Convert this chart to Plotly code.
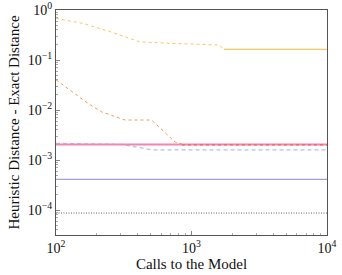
import plotly.graph_objects as go

# ---- data ----
yellow_dash_x = [100, 158, 250, 417, 705, 1590, 1740]
yellow_dash_y = [0.68, 0.54, 0.37, 0.23, 0.215, 0.20, 0.163]
yellow_solid_x = [1740, 10000]
yellow_solid_y = [0.163, 0.163]

orange_x = [100, 172, 217, 323, 508, 537, 755, 850]
orange_y = [0.040, 0.0136, 0.0092, 0.0063, 0.0063, 0.0055, 0.0023, 0.0021]

red_x = [850, 10000]
red_y = [0.0020, 0.0020]

pink_x = [100, 10000]
pink_y = [0.00204, 0.00204]

blue_x = [100, 307, 510, 10000]
blue_y = [0.00215, 0.00205, 0.0016, 0.0016]

purple_x = [100, 10000]
purple_y = [0.00041, 0.00041]

gray_x = [100, 10000]
gray_y = [0.000087, 0.000087]

x_tickvals = [100, 1000, 10000]
x_ticktext = ["10<sup>2</sup>", "10<sup>3</sup>", "10<sup>4</sup>"]
y_tickvals = [1e-4, 1e-3, 1e-2, 1e-1, 1]
y_ticktext = ["10<sup>−4</sup>", "10<sup>−3</sup>", "10<sup>−2</sup>", "10<sup>−1</sup>", "10<sup>0</sup>"]

x_minor = [k * 10 ** p for p in (2, 3) for k in range(2, 10)]
y_minor = [k * 10.0 ** p for p in (-5, -4, -3, -2, -1) for k in range(2, 10)]

fig = go.Figure()

def add(x, y, color, dash, width=1.0):
    fig.add_trace(go.Scatter(x=x, y=y, mode="lines",
                             line=dict(color=color, dash=dash, width=width),
                             showlegend=False, hoverinfo="skip"))

add(gray_x, gray_y, "#666666", "1px,1.5px", 1.0)
add(purple_x, purple_y, "#a59de0", "solid", 1.3)
add(blue_x, blue_y, "#a9c4f5", "4px,3px", 1.3)
add(pink_x, pink_y, "#f484b3", "solid", 1.8)
add(red_x, red_y, "#ef5a3c", "3px,3px", 1.0)
add(orange_x, orange_y, "#f59a55", "3px,3px", 1.0)
add(yellow_dash_x, yellow_dash_y, "#fbc75e", "3px,3px", 1.0)
add(yellow_solid_x, yellow_solid_y, "#fbc75e", "solid", 1.3)

tick_font = dict(family="Liberation Serif, DejaVu Serif, serif", size=14, color="#111")
title_font = dict(family="Liberation Serif, DejaVu Serif, serif", size=15, color="#111")

fig.update_xaxes(type="log", range=[2, 4], showline=True, linecolor="#555", linewidth=1,
                 mirror=True, ticks="inside", ticklen=4, tickcolor="#888",
                 tickmode="array", tickvals=x_tickvals, ticktext=x_ticktext,
                 minor=dict(tickmode="array", tickvals=x_minor, ticks="inside",
                            ticklen=2, tickcolor="#aaa", showgrid=False),
                 showgrid=False, zeroline=False, tickfont=tick_font, automargin=False,
                 title=dict(text="Calls to the Model", font=title_font, standoff=2))
fig.update_yaxes(type="log", range=[-4.5, 0], showline=True, linecolor="#555", linewidth=1,
                 mirror=True, ticks="inside", ticklen=4, tickcolor="#888",
                 tickmode="array", tickvals=y_tickvals, ticktext=y_ticktext,
                 minor=dict(tickmode="array", tickvals=y_minor, ticks="inside",
                            ticklen=2, tickcolor="#aaa", showgrid=False),
                 showgrid=False, zeroline=False, tickfont=tick_font, automargin=False,
                 title=dict(text="Heuristic Distance - Exact Distance", font=title_font, standoff=4))

fig.update_layout(width=342, height=275, margin=dict(l=56, r=15, t=10, b=40, autoexpand=False),
                  plot_bgcolor="white", paper_bgcolor="white")

fig.write_html("out.html", config={"displayModeBar": False},
               post_script="document.body.style.margin='0';document.body.style.overflow='hidden';")
